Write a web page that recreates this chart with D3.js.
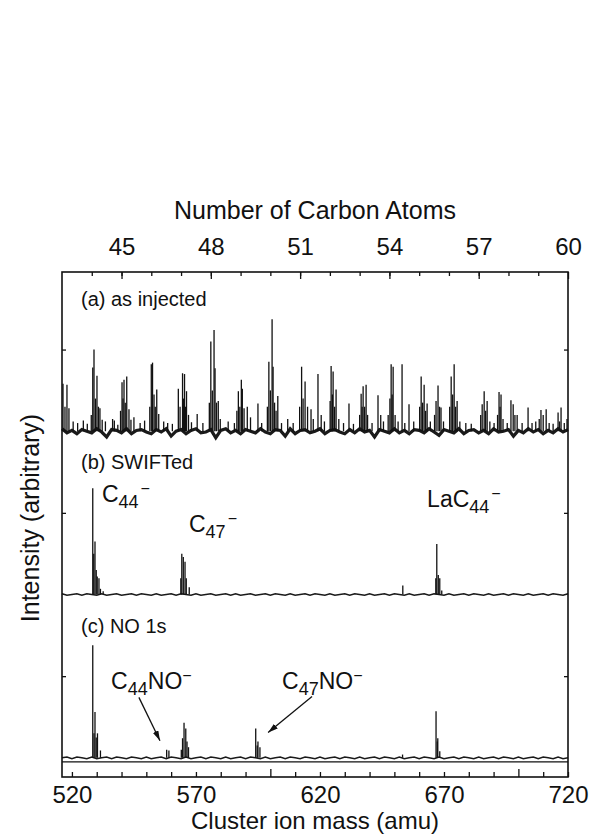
<!DOCTYPE html>
<html>
<head>
<meta charset="utf-8">
<script src="https://cdn.jsdelivr.net/npm/d3@7"></script>
<style>
  body { margin: 0; background: #fff; }
  text { font-family: "Liberation Sans", Arial, sans-serif; fill: #111; }
  .tick text { font-family: "Liberation Sans", Arial, sans-serif; }
</style>
</head>
<body>
<div id="chart"></div>
<script>
// peak lists: [mass (amu), intensity (arbitrary, tick = 1)]
var peaksA = [
  [516.4,0.58],[517.2,0.3],[518.0,0.57],[518.8,0.28],[520.5,0.12],[522.3,0.1],[524.6,0.13],[526.2,0.09],
  [527.8,0.2],[528.4,0.78],[528.9,1.0],[529.5,0.4],[530.1,0.68],[530.7,0.3],[531.3,0.28],[532.2,0.14],[533.5,0.12],[536.4,0.15],[537.1,0.13],[538.5,0.08],
  [539.6,0.25],[540.2,0.6],[540.6,0.4],[541.0,0.63],[541.5,0.35],[542.1,0.67],[543.0,0.27],[543.8,0.14],[545.0,0.17],[547.5,0.1],[549.3,0.13],
  [551.4,0.3],[552.0,0.82],[552.5,0.84],[553.1,0.45],[553.6,0.3],[554.2,0.51],[555.0,0.21],[557.0,0.12],[558.6,0.1],[560.5,0.09],
  [562.9,0.52],[563.6,0.3],[564.6,0.71],[565.0,0.4],[565.4,0.7],[565.8,0.3],[566.2,0.49],[567.0,0.2],[568.2,0.11],[570.5,0.21],[572.8,0.1],
  [575.4,0.35],[576.0,1.1],[576.6,0.5],[577.3,1.24],[577.7,0.77],[578.3,0.35],[579.0,0.37],[579.8,0.15],[583.0,0.12],[585.5,0.1],
  [586.5,0.25],[587.1,0.49],[587.7,0.3],[588.3,0.63],[588.7,0.52],[589.4,0.28],[590.7,0.3],[592.0,0.17],[595.0,0.34],[596.5,0.1],
  [598.8,0.3],[599.4,0.85],[600.0,0.5],[600.7,1.37],[601.1,0.79],[601.7,0.35],[602.3,0.25],[603.0,0.43],[604.5,0.1],[607.0,0.15],[609.2,0.1],
  [611.8,0.3],[612.6,0.79],[613.2,0.4],[614.0,0.61],[615.0,0.3],[616.4,0.27],[617.3,0.15],[619.2,0.7],[620.5,0.2],[621.8,0.12],
  [624.1,0.37],[624.5,0.8],[625.0,0.45],[625.3,0.73],[625.9,0.3],[626.5,0.51],[627.6,0.15],[629.5,0.1],[631.7,0.34],[633.5,0.09],
  [636.0,0.2],[636.6,0.46],[637.0,0.3],[637.4,0.55],[638.0,0.3],[638.6,0.57],[639.2,0.2],[641.0,0.1],[643.4,0.44],[644.5,0.2],[645.6,0.12],
  [647.5,0.2],[648.2,0.4],[648.7,0.82],[649.1,0.45],[649.5,0.79],[650.3,0.2],[651.5,0.12],[653.1,0.82],[654.2,0.1],[655.9,0.33],[657.8,0.12],
  [660.2,0.3],[660.8,0.67],[661.4,0.35],[662.0,0.57],[662.6,0.25],[663.2,0.34],[664.5,0.12],
  [666.2,0.2],[666.8,0.37],[667.6,0.56],[668.2,0.3],[668.8,0.29],[669.8,0.12],
  [672.3,0.3],[672.9,0.67],[673.5,0.45],[674.1,0.82],[674.7,0.3],[675.3,0.37],[676.4,0.12],[678.8,0.1],[681.0,0.09],
  [684.8,0.2],[685.4,0.33],[686.2,0.49],[686.8,0.25],[687.4,0.37],[688.5,0.12],[690.2,0.1],
  [691.6,0.2],[692.2,0.48],[692.6,0.3],[693.0,0.45],[693.8,0.15],[695.5,0.1],
  [697.0,0.38],[697.9,0.33],[698.6,0.2],[699.5,0.2],[701.5,0.1],[703.9,0.29],[705.5,0.1],[707.0,0.12],
  [708.4,0.15],[709.1,0.26],[710.0,0.2],[711.2,0.27],[712.4,0.1],[714.0,0.09],[716.0,0.23],[716.6,0.12],[717.2,0.29],[718.5,0.1],[719.6,0.15]
];
var peaksB = [
  [528.4,1.3],[528.8,0.5],[529.3,0.65],[529.8,0.3],[530.2,0.22],[530.9,0.2],[531.5,0.07],[532.6,0.04],
  [563.9,0.2],[564.3,0.5],[564.9,0.46],[565.6,0.4],[566.1,0.2],[567.3,0.09],
  [653.4,0.11],
  [666.7,0.2],[667.1,0.62],[667.7,0.24],[668.3,0.2],[669.1,0.05]
];
var peaksC = [
  [528.4,1.38],[528.9,0.3],[529.3,0.56],[529.8,0.25],[530.3,0.3],[531.5,0.09],
  [558.2,0.1],[559.1,0.09],
  [564.1,0.1],[564.6,0.24],[565.2,0.43],[565.9,0.36],[566.4,0.2],[567.0,0.13],
  [594.1,0.36],[594.7,0.15],[595.0,0.2],[595.8,0.13],
  [653.3,0.04],
  [666.8,0.57],[667.3,0.2],[667.5,0.24],[668.3,0.08]
];

// baseline noise, one value every 2 amu from 516
var noiseA = [0.03,-0.02,0.01,-0.03,0.02,0.00,-0.02,0.03,-0.01,-0.07,
  0.02,0.01,-0.02,0.03,-0.03,0.01,0.02,-0.01,-0.03,0.02,
  -0.01,0.03,-0.06,0.00,0.02,-0.03,0.01,0.03,-0.02,-0.01,
  0.02,-0.08,0.01,0.03,-0.02,0.01,-0.03,0.02,0.00,-0.02,
  0.03,-0.01,-0.03,0.02,0.01,-0.06,0.03,-0.03,0.01,0.02,
  -0.02,0.00,0.03,-0.03,0.01,0.02,-0.01,-0.03,0.02,-0.02,
  0.03,-0.01,0.01,-0.07,0.02,0.00,-0.02,0.03,-0.02,0.01,
  -0.03,0.02,0.01,-0.02,0.03,-0.01,-0.05,0.02,0.00,-0.02,
  0.03,-0.03,0.01,0.02,-0.02,0.01,-0.03,0.03,-0.01,0.00,
  0.02,-0.06,0.01,-0.02,0.03,-0.01,0.02,-0.03,0.01,-0.02,
  0.03,-0.01,0.02];
var noiseB = [0.01,-0.01,0.00,0.01,-0.01,0.01,0.00,-0.01,0.01,-0.01,
  0.00,0.01,-0.01,0.00,0.01,-0.01,0.01,0.00,-0.01,0.01,
  -0.01,0.00,0.01,-0.01,0.01,0.00,-0.01,0.01,-0.01,0.00,
  0.01,-0.01,0.00,0.01,-0.01,0.01,-0.01,0.00,0.01,-0.01,
  0.00,0.01,-0.01,0.01,0.00,-0.01,0.01,-0.01,0.00,0.01,
  -0.01,0.01,0.00,-0.01,0.01,-0.01,0.00,0.01,-0.01,0.01,
  0.00,-0.01,0.01,-0.01,0.00,0.01,-0.01,0.01,0.00,-0.01,
  0.01,-0.01,0.00,0.01,-0.01,0.01,0.00,-0.01,0.01,-0.01,
  0.00,0.01,-0.01,0.01,0.00,-0.01,0.01,-0.01,0.00,0.01,
  -0.01,0.01,0.00,-0.01,0.01,-0.01,0.00,0.01,-0.01,0.01,
  0.00,-0.01,0.01];
var noiseC = [0.00,0.01,-0.01,0.01,0.00,-0.01,0.01,-0.01,0.00,0.01,
  -0.01,0.01,0.00,-0.01,0.01,0.00,-0.01,0.01,-0.01,0.00,
  0.01,-0.01,0.01,0.00,-0.01,0.01,-0.01,0.00,0.01,-0.01,
  0.01,0.00,-0.01,0.01,-0.01,0.00,0.01,-0.01,0.01,0.00,
  -0.01,0.01,-0.01,0.00,0.01,-0.01,0.01,0.00,-0.01,0.01,
  0.00,-0.01,0.01,-0.01,0.00,0.01,-0.01,0.01,0.00,-0.01,
  0.01,-0.01,0.00,0.01,-0.01,0.01,0.00,-0.01,0.01,-0.01,
  0.00,0.01,-0.01,0.01,0.00,-0.01,0.01,-0.01,0.00,0.01,
  -0.01,0.01,0.00,-0.01,0.01,-0.01,0.00,0.01,-0.01,0.01,
  0.00,-0.01,0.01,-0.01,0.00,0.01,-0.01,0.01,0.00,-0.01,
  0.01,-0.01,0.00];

var panelLabels = ["(a) as injected", "(b) SWIFTed", "(c) NO 1s"];
var massTicks = [520, 570, 620, 670, 720];
var carbonTicks = [45, 48, 51, 54, 57, 60];

var svgWidth = 593;
var svgHeight = 839;
var margin = { top: 272, right: 25, bottom: 62, left: 62 };
var width = svgWidth - margin.left - margin.right;
var panelH = 163.3;

var svg = d3.select("#chart")
  .append("svg")
  .attr("width", svgWidth)
  .attr("height", svgHeight);

var chartGroup = svg.append("g")
  .attr("transform", `translate(${margin.left}, ${margin.top})`);

var x = d3.scaleLinear().domain([516, 720]).range([0, width]);
var xC = d3.scaleLinear().domain([516 / 12, 60]).range([0, width]);

var panels = [
  { peaks: peaksA, noise: noiseA, noiseW: 3.2 },
  { peaks: peaksB, noise: noiseB, noiseW: 1.5 },
  { peaks: peaksC, noise: noiseC, noiseW: 1.5 }
];

var yScales = [];
panels.forEach(function(p, i) {
  var top = i * panelH;
  var y = d3.scaleLinear().domain([-0.05, 1.95]).range([top + panelH, top]);
  yScales.push(y);
  var g = chartGroup.append("g");

  var line = d3.line()
    .x((d, j) => x(516 + 2 * j))
    .y(d => y(d));
  g.append("path")
    .datum(p.noise)
    .attr("d", line)
    .attr("fill", "none")
    .attr("stroke", "#1a1a1a")
    .attr("stroke-width", p.noiseW);

  g.selectAll("line.peak")
    .data(p.peaks)
    .enter()
    .append("line")
    .attr("class", "peak")
    .attr("x1", d => x(d[0]))
    .attr("x2", d => x(d[0]))
    .attr("y1", y(0))
    .attr("y2", d => y(d[1]))
    .attr("stroke", "#111")
    .attr("stroke-width", 1.3);

  // ticks at intensity 1 on both sides, pointing inward
  g.append("g")
    .call(d3.axisLeft(y).tickValues([1]).tickSizeInner(-4).tickSizeOuter(0).tickFormat(""))
    .call(s => s.select(".domain").remove());
  g.append("g")
    .attr("transform", `translate(${width},0)`)
    .call(d3.axisRight(y).tickValues([1]).tickSizeInner(-4).tickSizeOuter(0).tickFormat(""))
    .call(s => s.select(".domain").remove());

  g.append("text")
    .attr("x", 19)
    .attr("y", top + 34)
    .style("font-size", "20px")
    .text(panelLabels[i]);
});

// lower edge of panel (c)
var plotBottom = 3 * panelH;
var axisBottomY = 505;
chartGroup.append("line")
  .attr("x1", 0).attr("x2", width)
  .attr("y1", plotBottom).attr("y2", plotBottom)
  .attr("stroke", "#111").attr("stroke-width", 1.3);

// frame
chartGroup.append("rect")
  .attr("x", 0).attr("y", 0)
  .attr("width", width).attr("height", axisBottomY)
  .attr("fill", "none")
  .attr("stroke", "#111")
  .attr("stroke-width", 1.6);

// top axis: number of carbon atoms
chartGroup.append("g")
  .call(d3.axisTop(xC).tickValues(d3.range(44, 60)).tickSizeInner(-4).tickSizeOuter(0).tickFormat(""))
  .call(s => s.select(".domain").remove());
chartGroup.append("g")
  .call(d3.axisTop(xC).tickValues(carbonTicks).tickSizeInner(-7).tickSizeOuter(0).tickPadding(17))
  .call(s => s.select(".domain").remove())
  .call(s => s.selectAll("text").style("font-size", "24px").attr("fill", "#111"));

// bottom axis: cluster ion mass
chartGroup.append("g")
  .attr("transform", `translate(0,${axisBottomY})`)
  .call(d3.axisBottom(x).tickValues(d3.range(520, 721, 10)).tickSizeInner(-5).tickSizeOuter(0).tickFormat(""))
  .call(s => s.select(".domain").remove())
  .call(s => s.selectAll(".tick line").filter(d => d % 100 === 0).attr("y2", -8));
chartGroup.append("g")
  .attr("transform", `translate(0,${axisBottomY})`)
  .call(d3.axisBottom(x).tickValues(massTicks).tickSizeInner(0).tickSizeOuter(0).tickPadding(9))
  .call(s => s.select(".domain").remove())
  .call(s => s.selectAll("text").style("font-size", "24px").attr("fill", "#111"));

svg.selectAll(".tick line").attr("stroke", "#111").attr("stroke-width", 1.3);

// axis titles
svg.append("text")
  .attr("x", margin.left + width / 2)
  .attr("y", 219)
  .attr("text-anchor", "middle")
  .style("font-size", "25px")
  .text("Number of Carbon Atoms");

svg.append("text")
  .attr("x", margin.left + width / 2)
  .attr("y", 829)
  .attr("text-anchor", "middle")
  .style("font-size", "24px")
  .text("Cluster ion mass (amu)");

svg.append("text")
  .attr("transform", "rotate(-90)")
  .attr("x", -518)
  .attr("y", 39)
  .attr("text-anchor", "middle")
  .style("font-size", "25px")
  .text("Intensity (arbitrary)");

// ion labels: [panel, mass, intensity, main, sub, tail]
var ionLabels = [
  [1, 532.1, 1.13, "C", "44", ""],
  [1, 567.2, 0.77, "C", "47", ""],
  [1, 663.2, 1.07, "LaC", "44", ""],
  [2, 535.8, 0.84, "C", "44", "NO"],
  [2, 604.7, 0.84, "C", "47", "NO"]
];
ionLabels.forEach(function(l) {
  var y = yScales[l[0]];
  var t = chartGroup.append("text")
    .attr("x", x(l[1]))
    .attr("y", y(l[2]))
    .style("font-size", "23px")
    .text(l[3]);
  t.append("tspan").attr("dy", 6).style("font-size", "18px").text(l[4]);
  if (l[5]) {
    t.append("tspan").attr("dy", -6).style("font-size", "23px").text(l[5]);
    t.append("tspan").attr("dy", -8).style("font-size", "16px").text("\u2212");
  } else {
    t.append("tspan").attr("dy", -14).attr("dx", 2).style("font-size", "16px").text("\u2212");
  }
});

// arrows: [panel, from mass, from y, to mass, to y]
var arrows = [
  [2, 547.0, 0.74, 555.5, 0.21],
  [2, 616.8, 0.75, 599.1, 0.31]
];
svg.append("defs").append("marker")
  .attr("id", "head")
  .attr("viewBox", "0 0 10 6")
  .attr("refX", 10).attr("refY", 3)
  .attr("markerWidth", 10).attr("markerHeight", 6)
  .attr("markerUnits", "userSpaceOnUse")
  .attr("orient", "auto")
  .append("path")
  .attr("d", "M0,0 L10,3 L0,6 Z")
  .attr("fill", "#111");
arrows.forEach(function(a) {
  var y = yScales[a[0]];
  chartGroup.append("line")
    .attr("x1", x(a[1])).attr("y1", y(a[2]))
    .attr("x2", x(a[3])).attr("y2", y(a[4]))
    .attr("stroke", "#111")
    .attr("stroke-width", 1.3)
    .attr("marker-end", "url(#head)");
});
</script>
</body>
</html>
